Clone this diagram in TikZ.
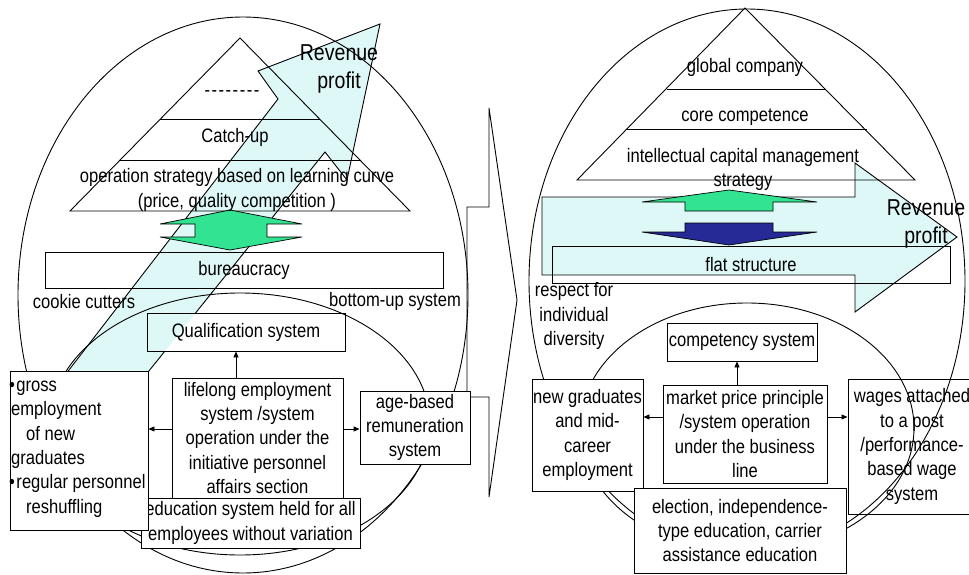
\documentclass[tikz,border=0pt]{standalone}
\usepackage{fontspec}
\setmainfont{Liberation Sans}[FakeStretch=0.85]
\usetikzlibrary{arrows.meta}
\definecolor{revfill}{RGB}{222,248,248}
\definecolor{grn}{RGB}{50,228,145}
\definecolor{dblue}{RGB}{38,42,150}
\tikzset{
  ln/.style={line width=0.9pt, draw=black},
  box/.style={ln, rectangle, inner sep=0pt, align=center},
  wbox/.style={box, fill=white},
  lbl/.style={inner sep=0pt, align=center},
  con/.style={line width=0.9pt, -{Triangle[length=6pt,width=5pt]}},
  big/.style={font=\fontsize{23}{28}\selectfont},
}
\begin{document}
\begin{tikzpicture}[x=1pt,y=-1pt, every node/.style={font=\fontsize{19.5}{24.4}\selectfont}]
\useasboundingbox (0,0) rectangle (969,575);
\clip (0,0) rectangle (969,575);
\fill[white] (0,0) rectangle (969,575);

% ---------- revenue arrows (fills) ----------
\fill[revfill] (380,24) -- (347,180) -- (325,152) -- (132,392) -- (52,392) -- (278,99) -- (258,71) -- cycle;
\filldraw[ln, fill=revfill] (542,197) -- (855,197) -- (855,163) -- (957,237) -- (855,312) -- (855,275) -- (542,275) -- cycle;

% ---------- ellipses ----------
\draw[ln] (243,295) ellipse [x radius=225pt, y radius=278pt];
\draw[ln] (240,424) ellipse [x radius=190pt, y radius=131pt];
\draw[ln] (747,281) ellipse [x radius=218pt, y radius=272pt];
\draw[ln] (747,428) ellipse [x radius=167pt, y radius=125pt];

% ---------- pyramids ----------
\draw[ln] (240,38) -- (410,211) -- (70,211) -- cycle;
\draw[ln] (160,119) -- (320,119);
\draw[ln] (120,160) -- (360,160);
\draw[ln] (745,8) -- (915,180) -- (577,180) -- cycle;
\draw[ln] (667,89) -- (825,89);
\draw[ln] (627,129) -- (867,129);

% ---------- left arrow outline (hidden inside qualification box) ----------
\begin{scope}
  \clip (0,0) rectangle (969,575) (147,351) rectangle (345,313);
  \draw[ln] (380,24) -- (347,180) -- (325,152) -- (132,392) -- (52,392) -- (278,99) -- (258,71) -- cycle;
\end{scope}

% ---------- green / blue arrows ----------
\filldraw[ln, line width=0.7pt, fill=grn] (230,210) -- (302,224) -- (267,224) -- (267,237) -- (302,237) -- (230,250) -- (160,237) -- (195,237) -- (195,224) -- (160,224) -- cycle;
\filldraw[ln, line width=0.7pt, fill=grn] (729,190) -- (817,202) -- (773,202) -- (773,211) -- (685,211) -- (685,202) -- (642,202) -- cycle;
\filldraw[ln, line width=0.7pt, fill=dblue] (685,223) -- (773,223) -- (773,232) -- (817,232) -- (729,245) -- (642,232) -- (685,232) -- cycle;

% ---------- middle chevron ----------
\draw[ln] (489,108) -- (517,300) -- (489,497) -- (489,397) -- (467,397) -- (467,207) -- (489,207) -- cycle;

% ---------- left texts ----------
\node[lbl] (dashes) at (232,94) {-\kern1.5pt-\kern1.5pt-\kern1.5pt-\kern1.5pt-\kern1.5pt-\kern1.5pt-\kern1.5pt-};
\node[lbl] (catch) at (235,137) {Catch-up};
\node[lbl] (oper) at (237,190) {operation strategy based on learning curve\\(price, quality competition )};
\node[lbl, big] (revL) at (339,69) {Revenue\\profit};
\node[lbl] (cookie) at (84,302) {cookie cutters};
\node[lbl] (bottomup) at (395,301) {bottom-up system};

% ---------- left boxes ----------
\node[box, minimum width=398pt, minimum height=36pt] (bur) at (244,270) {bureaucracy};
\node[box, minimum width=198pt, minimum height=38pt] (qual) at (246,332) {Qualification system};
\node[wbox, minimum width=219pt, minimum height=50pt] (edu) at (250.5,523) {education system held for all\\employees without variation};
\node[wbox, minimum width=171pt, minimum height=120pt] (life) at (257.5,438) {lifelong employment\\system /system\\operation under the\\initiative personnel\\affairs section};
\node[wbox, minimum width=110pt, minimum height=73pt] (age) at (415,427.5) {age-based\\remuneration\\system};
\node[wbox, minimum width=138pt, minimum height=159pt] (gross) at (79,450.5) {};
\node[lbl, align=left, anchor=west] (grosstxt) at (9,449) {•\hspace{1.5pt}gross\\\hspace*{2pt}employment\\\hspace*{17pt}of new\\\hspace*{2pt}graduates\\•\hspace{1.5pt}regular personnel\\\hspace*{17pt}reshuffling};

\draw[con] (life.north -| 236,0) -- (qual.south -| 236,0);
\draw[con] (life.west |- 0,429) -- (gross.east |- 0,429);
\draw[con] (life.east |- 0,429) -- (age.west |- 0,429);

% ---------- right texts ----------
\node[lbl] (glob) at (745,67) {global company};
\node[lbl] (core) at (745,117) {core competence};
\node[lbl] (intel) at (743,169.5) {intellectual capital management\\strategy};
\node[lbl, big] (revR) at (926,224) {Revenue\\profit};
\node[lbl] (respect) at (574,316) {respect for\\individual\\diversity};

% ---------- right boxes ----------
\node[box, minimum width=398pt, minimum height=37pt] (flat) at (751,264.5) {flat structure};
\node[box, minimum width=150pt, minimum height=38pt] (comp) at (742,342) {competency system};
\node[wbox, minimum width=164pt, minimum height=98pt] (market) at (745,434) {market price principle\\/system operation\\under the business\\line};
\node[wbox, minimum width=111pt, minimum height=112pt] (newgrad) at (587.5,435) {new graduates\\and mid-\\career\\employment};
\node[box, minimum width=128pt, minimum height=135pt] (wages) at (912,446.5) {wages attached\\to a post\\/performance-\\based wage\\system};
\node[wbox, minimum width=212pt, minimum height=85pt] (elect) at (740,530.5) {election, independence-\\type education, carrier\\assistance education};

\draw[con] (market.north -| 737,0) -- (comp.south -| 737,0);
\draw[con] (market.west |- 0,417) -- (newgrad.east |- 0,417);
\draw[con] (market.east |- 0,417) -- (wages.west |- 0,417);
\end{tikzpicture}
\end{document}
